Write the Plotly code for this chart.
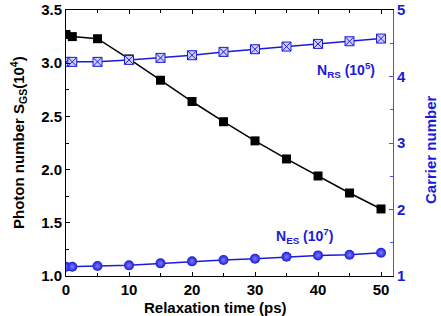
import plotly.graph_objects as go

time_ps = [0, 1, 5, 10, 15, 20, 25, 30, 35, 40, 45, 50]
s_gs = [3.27, 3.25, 3.23, 3.04, 2.84, 2.64, 2.45, 2.27, 2.10, 1.94, 1.78, 1.63]
n_rs = [4.22, 4.22, 4.22, 4.25, 4.28, 4.32, 4.37, 4.41, 4.45, 4.49, 4.53, 4.57]
n_es = [1.14, 1.14, 1.15, 1.16, 1.19, 1.22, 1.24, 1.26, 1.29, 1.31, 1.32, 1.35]

BLUE = "#1a1adc"
AXBLUE = "#5050e0"
FONT = "Liberation Sans, Arial, sans-serif"
FS = 15

fig = go.Figure()
fig.add_trace(go.Scatter(x=time_ps, y=s_gs, mode="lines+markers",
                         line=dict(color="black", width=1.5),
                         marker=dict(symbol="square", size=9, color="black"),
                         yaxis="y", showlegend=False))
fig.add_trace(go.Scatter(x=time_ps, y=n_rs, mode="lines+markers",
                         line=dict(color=BLUE, width=1.5),
                         marker=dict(symbol="square-x", size=9, color="#d0d0ff",
                                     line=dict(color=BLUE, width=1)),
                         yaxis="y2", showlegend=False))
fig.add_trace(go.Scatter(x=time_ps, y=n_es, mode="lines+markers",
                         line=dict(color=BLUE, width=1.5),
                         marker=dict(symbol="circle", size=10, color=BLUE,
                                     gradient=dict(type="radial", color="#8080ff"),
                                     line=dict(width=0)),
                         yaxis="y2", showlegend=False))

fig.update_layout(
    width=441, height=316,
    margin=dict(l=66, r=48, t=10, b=40),
    plot_bgcolor="white", paper_bgcolor="white",
    font=dict(family=FONT, size=FS, color="black"),
    xaxis=dict(range=[0, 51.9], tickvals=[0, 10, 20, 30, 40, 50], automargin=False,
               ticks="inside", ticklen=4, tickcolor="black", showgrid=False, zeroline=False,
               showline=True, linecolor="black", linewidth=1, mirror="ticks",
               minor=dict(ticks="inside", ticklen=3, dtick=5, tick0=0, tickcolor="black"),
               tickfont=dict(size=FS, family=FONT, weight="bold")),
    yaxis=dict(range=[1.0, 3.5], dtick=0.5, tickformat=".1f", automargin=False,
               ticks="inside", ticklen=4, tickcolor="black", showgrid=False, zeroline=False,
               showline=True, linecolor="black", linewidth=1,
               minor=dict(ticks="inside", ticklen=3, dtick=0.25, tickcolor="black"),
               tickfont=dict(size=FS, family=FONT, weight="bold")),
    yaxis2=dict(range=[1, 5], dtick=1, overlaying="y", side="right", automargin=False,
                ticks="inside", ticklen=4, tickcolor=AXBLUE, showgrid=False, zeroline=False,
                showline=True, linecolor=AXBLUE, linewidth=1,
                minor=dict(ticks="inside", ticklen=3, dtick=0.5, tickcolor=AXBLUE),
                tickfont=dict(size=FS, family=FONT, weight="bold", color=BLUE)),
    annotations=[
        dict(x=215, y=307, xref="paper", yref="paper", text="<b>Relaxation time (ps)</b>",
             showarrow=False, font=dict(size=FS, family=FONT, color="black")),
        dict(x=18, y=143, text="<b>Photon number S<sub>GS</sub>(10<sup>4</sup>)</b>",
             textangle=-90, showarrow=False, font=dict(size=FS, family=FONT, color="black")),
        dict(x=430, y=150, text="<b>Carrier number</b>",
             textangle=-90, showarrow=False, font=dict(size=FS, family=FONT, color=BLUE)),
        dict(x=44.4, y=4.1, xref="x", yref="y2", xanchor="center", yanchor="middle",
             text="<b>N<sub>RS</sub> (10<sup>5</sup>)</b>", showarrow=False,
             font=dict(size=14, color=BLUE, family=FONT)),
        dict(x=37.8, y=1.6, xref="x", yref="y2", xanchor="center", yanchor="middle",
             text="<b>N<sub>ES</sub> (10<sup>7</sup>)</b>", showarrow=False,
             font=dict(size=14, color=BLUE, family=FONT)),
    ],
)

# convert pixel-positioned annotations to paper coords
W, H = 441, 316
L, R, T, B = 66, 48, 10, 40
pw, ph = W - L - R, H - T - B
new_ann = []
for a in fig.layout.annotations:
    if a.xref in (None, "paper") and a.yref in (None, "paper") and a.x > 1:
        a.xref = "paper"; a.yref = "paper"
        a.xanchor = "center"; a.yanchor = "middle"
        px, py = a.x, a.y
        a.x = (px - L) / pw
        a.y = 1 - (py - T) / ph
    new_ann.append(a)
fig.layout.annotations = new_ann

fig.write_html("out.html")
